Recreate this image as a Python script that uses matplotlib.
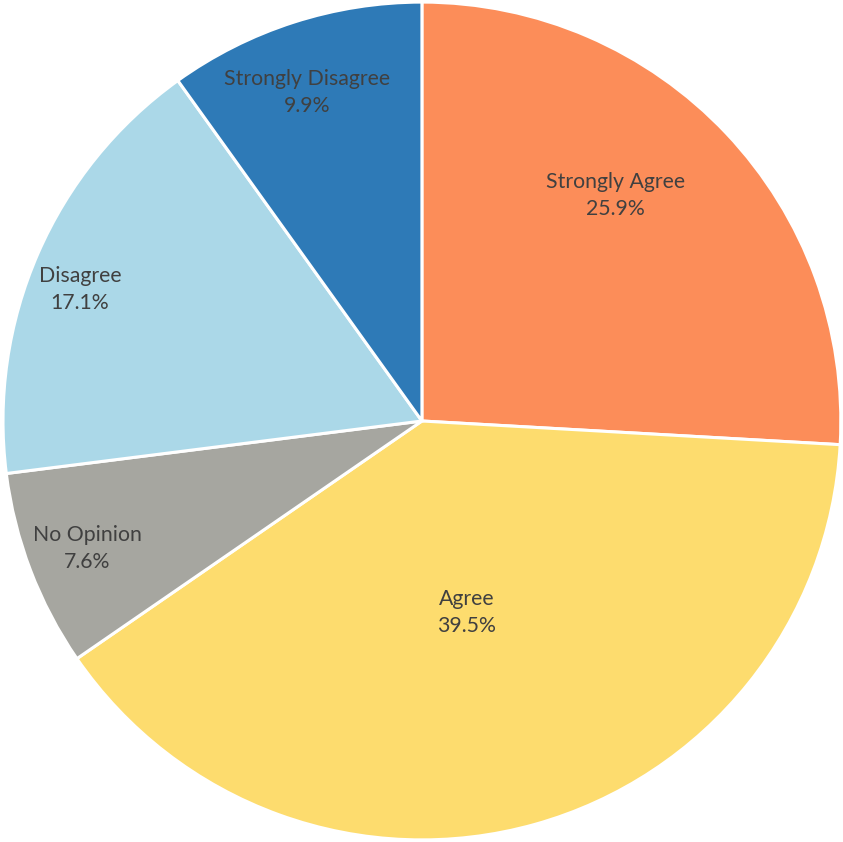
import matplotlib.pyplot as plt
import numpy as np

categories = ['Strongly Agree', 'Agree', 'No Opinion', 'Disagree', 'Strongly Disagree']
shares = [25.9, 39.5, 7.6, 17.1, 9.9]
colors = ['#fc8d59', '#fddc6e', '#a6a6a0', '#abd8e8', '#2e7ab7']

# label placement inside each wedge: radius fraction, angular nudge (deg)
label_radius = [0.71, 0.47, 0.855, 0.875, 0.83]
label_nudge = [6.0, -2.5, 0.0, 2.5, 1.5]

fig = plt.figure(figsize=(8.43, 8.42), dpi=100)
ax = fig.add_axes([0, 0, 1, 1])
wedges, _ = ax.pie(shares, colors=colors, startangle=90, counterclock=False,
                   radius=1.0, center=(0, 0),
                   wedgeprops=dict(edgecolor='white', linewidth=2.2))

for w, name, val, r, nudge in zip(wedges, categories, shares, label_radius, label_nudge):
    mid = np.deg2rad((w.theta1 + w.theta2) / 2 + nudge)
    ax.text(r * np.cos(mid), r * np.sin(mid), f'{name}\n{val:.1f}%',
            ha='center', va='center', fontsize=15.3, color='#404040',
            family='Lato', linespacing=1.45)

ax.set_xlim(-1.007, 1.005)
ax.set_ylim(-1.005, 1.005)
ax.set_aspect('equal')
ax.axis('off')
fig.savefig('out.png', dpi=100)
